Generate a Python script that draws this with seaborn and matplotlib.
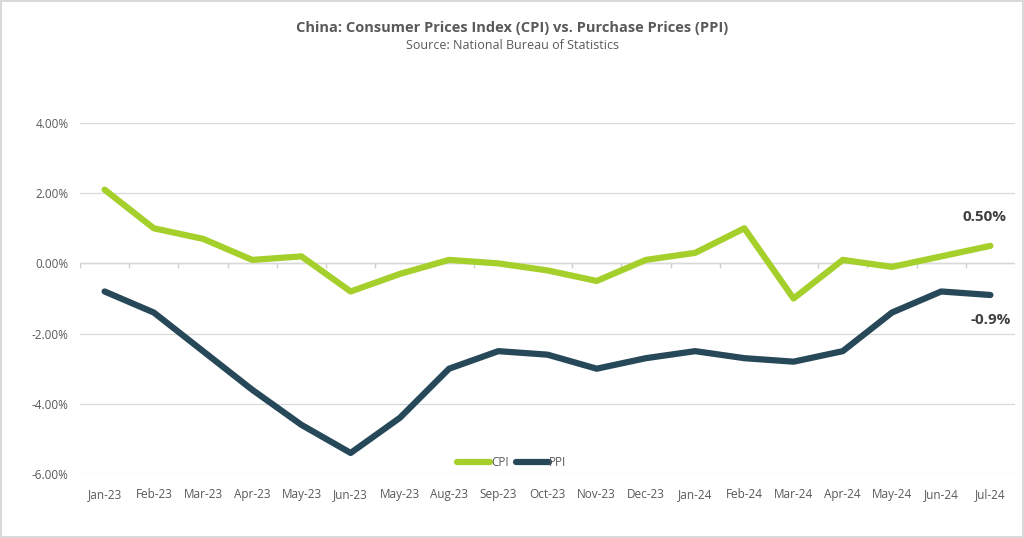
import matplotlib
matplotlib.use("Agg")
import matplotlib.pyplot as plt
import seaborn as sns
import pandas as pd
import numpy as np

months = ["Jan-23", "Feb-23", "Mar-23", "Apr-23", "May-23", "Jun-23", "May-23", "Aug-23",
          "Sep-23", "Oct-23", "Nov-23", "Dec-23", "Jan-24", "Feb-24", "Mar-24", "Apr-24",
          "May-24", "Jun-24", "Jul-24"]
cpi = [2.1, 1.0, 0.7, 0.1, 0.2, -0.8, -0.3, 0.1, 0.0, -0.2, -0.5, 0.1, 0.3, 1.0, -1.0, 0.1, -0.1, 0.2, 0.5]
ppi = [-0.8, -1.4, -2.5, -3.6, -4.6, -5.4, -4.4, -3.0, -2.5, -2.6, -3.0, -2.7, -2.5, -2.7, -2.8, -2.5, -1.4, -0.8, -0.9]
yticks = [-6, -4, -2, 0, 2, 4]

idx = list(range(len(months)))
df = pd.DataFrame({
    "idx": idx * 2,
    "value": cpi + ppi,
    "series": ["CPI"] * len(cpi) + ["PPI"] * len(ppi),
})

sns.set_theme(style="white")
plt.rcParams["font.family"] = ["Open Sans", "DejaVu Sans"]

fig = plt.figure(figsize=(10.24, 5.38), dpi=100)
fig.patch.set_edgecolor("#D9D9D9")
fig.patch.set_linewidth(1.5)
ax = fig.add_axes([80 / 1024, 1 - 474 / 538, 935 / 1024, 351 / 538])

palette = {"CPI": "#A5CF2A", "PPI": "#264858"}
sns.lineplot(data=df, x="idx", y="value", hue="series", palette=palette, ax=ax,
             linewidth=4.5, sort=False, legend=True)
for line in ax.get_lines():
    line.set_solid_capstyle("round")
    line.set_solid_joinstyle("round")

ax.set_xlim(-0.5, len(months) - 0.5)
ax.set_ylim(-6, 4)
ax.set_yticks(yticks)
ax.set_yticklabels([f"{v:.2f}%" for v in yticks])
ax.set_xticks(idx)
ax.set_xticklabels(months)
ax.tick_params(axis="both", labelsize=8.5, colors="#595959", length=0, pad=8)
ax.tick_params(axis="x", pad=10)
ax.set_xlabel("")
ax.set_ylabel("")
for s in ax.spines.values():
    s.set_visible(False)
ax.yaxis.grid(True, color="#D9D9D9", linewidth=0.9)
ax.set_axisbelow(True)
ax.axhline(0, color="#D0D0D0", linewidth=1.0, zorder=0)
ax.vlines(np.arange(-0.5, len(months), 1.0), -0.12, 0, color="#D0D0D0", linewidth=1.0, zorder=0)

leg = ax.legend(loc="center", bbox_to_anchor=(0.462, 0.033), ncol=2, frameon=False,
                fontsize=8.5, handlelength=2.8, handletextpad=0.05, columnspacing=0.6)
for t in leg.get_texts():
    t.set_color("#595959")
for h in leg.get_lines():
    h.set_linewidth(4.5)
    h.set_solid_capstyle("round")

ax.annotate(f"{cpi[-1]:.2f}%", xy=(idx[-1], cpi[-1]), xytext=(-4, 16), textcoords="offset points",
            ha="center", va="bottom", fontsize=11, fontweight="bold", color="#404040")
ax.annotate(f"{ppi[-1]:.1f}%", xy=(idx[-1], ppi[-1]), xytext=(0, -13), textcoords="offset points",
            ha="center", va="top", fontsize=11, fontweight="bold", color="#404040")

fig.text(0.5, 1 - 28 / 538, "China: Consumer Prices Index (CPI) vs. Purchase Prices (PPI)",
         ha="center", va="center", fontsize=10.5, fontweight="bold", color="#595959")
fig.text(0.5, 1 - 46 / 538, "Source: National Bureau of Statistics",
         ha="center", va="center", fontsize=9, color="#595959")

fig.savefig("out.png", dpi=100, edgecolor=fig.get_edgecolor())
